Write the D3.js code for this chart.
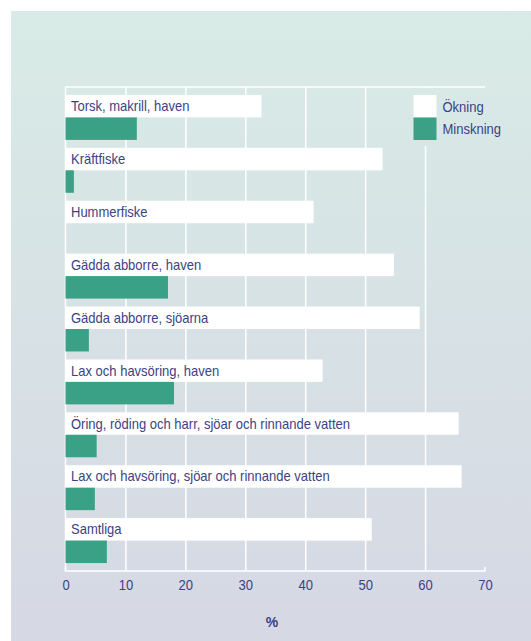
<!DOCTYPE html>
<html>
<head>
<meta charset="utf-8">
<script src="https://cdn.jsdelivr.net/npm/d3@7"></script>
<style>
  body { margin: 0; background: #ffffff; }
  svg text { font-family: "Liberation Sans", Arial, sans-serif; fill: #3d3f85; }
</style>
</head>
<body>
<div id="chart"></div>
<script>
const categories = [
    "Torsk, makrill, haven",
    "Kräftfiske",
    "Hummerfiske",
    "Gädda abborre, haven",
    "Gädda abborre, sjöarna",
    "Lax och havsöring, haven",
    "Öring, röding och harr, sjöar och rinnande vatten",
    "Lax och havsöring, sjöar och rinnande vatten",
    "Samtliga"
];
const okning = [32.7, 52.9, 41.4, 54.8, 59.1, 42.9, 65.6, 66.1, 51.1];
const minskning = [11.9, 1.4, 0, 17.1, 3.9, 18.1, 5.2, 4.9, 6.9];
const seriesNames = ["Ökning", "Minskning"];
const xTicks = [0, 10, 20, 30, 40, 50, 60, 70];

const data = categories.map((c, i) => ({ cat: c, Ökning: okning[i], Minskning: minskning[i] }));

const width = 531, height = 641;
const margin = { top: 87, bottom: 70, left: 65.5, right: 46 };
const textColor = "#3d3f85";

const svg = d3.select("#chart").append("svg")
    .attr("width", width)
    .attr("height", height);

const defs = svg.append("defs");
const grad = defs.append("linearGradient")
    .attr("id", "bg")
    .attr("gradientUnits", "userSpaceOnUse")
    .attr("x1", 0).attr("y1", 11).attr("x2", 0).attr("y2", height);
grad.append("stop").attr("offset", "0%").attr("stop-color", "#d8ebe6");
grad.append("stop").attr("offset", "100%").attr("stop-color", "#d6d8e4");

svg.append("rect")
    .attr("x", 11).attr("y", 11)
    .attr("width", width - 11).attr("height", height - 11)
    .attr("fill", "url(#bg)");

const xScale = d3.scaleLinear()
    .domain([0, 70])
    .range([margin.left, width - margin.right]);

const yScale = d3.scaleBand()
    .domain(categories)
    .range([margin.top, height - margin.bottom])
    .paddingInner(0.15)
    .paddingOuter(0.15);

const subScale = d3.scaleBand()
    .domain(seriesNames)
    .range([0, yScale.bandwidth()]);

const colorScale = d3.scaleOrdinal()
    .domain(seriesNames)
    .range(["#ffffff", "#3ba186"]);

const plotBottom = height - margin.bottom;

// gridlines
svg.append("g")
    .attr("class", "grid")
    .attr("transform", `translate(0, ${plotBottom})`)
    .call(d3.axisBottom(xScale).tickValues(xTicks.slice(1, -1)).tickSize(-(plotBottom - margin.top)).tickFormat(""))
    .call(g => g.select(".domain").remove())
    .call(g => g.selectAll("line").attr("stroke", "#ffffff").attr("stroke-width", 1.5));

// frame lines: top, left, bottom
const frame = svg.append("g").attr("stroke", "#ffffff").attr("stroke-width", 1.5).attr("fill", "none");
frame.append("line").attr("x1", xScale(0)).attr("x2", xScale(70)).attr("y1", margin.top).attr("y2", margin.top);
frame.append("line").attr("x1", xScale(0)).attr("x2", xScale(0)).attr("y1", margin.top).attr("y2", plotBottom);
frame.append("path").attr("d", `M${xScale(0)},${plotBottom - 4}V${plotBottom}H${xScale(70)}V${plotBottom - 4}`);

// legend (covers the grid behind it)
const legend = svg.append("g").attr("class", "legend");
legend.append("rect")
    .attr("x", 408).attr("y", margin.top + 1)
    .attr("width", 100).attr("height", 58)
    .attr("fill", "url(#bg)");

const groups = svg.selectAll("g.row")
    .data(data)
    .join("g")
    .attr("class", "row")
    .attr("transform", d => `translate(0, ${yScale(d.cat)})`);

groups.selectAll("rect")
    .data(d => seriesNames.map(k => ({ key: k, value: d[k] })))
    .join("rect")
    .attr("x", xScale(0))
    .attr("y", d => subScale(d.key))
    .attr("width", d => xScale(d.value) - xScale(0))
    .attr("height", subScale.bandwidth())
    .attr("fill", d => colorScale(d.key));

groups.append("text")
    .attr("transform", `translate(${xScale(0) + 5.5}, ${subScale("Ökning") + subScale.bandwidth() / 2}) scale(0.93, 1)`)
    .attr("dy", "0.36em")
    .style("font-size", "14px")
    .text(d => d.cat);

const legendItems = legend.selectAll("g.item")
    .data(seriesNames)
    .join("g")
    .attr("class", "item")
    .attr("transform", (d, i) => `translate(413.5, ${95 + i * 22.5})`);

legendItems.append("rect")
    .attr("width", 23)
    .attr("height", 22.5)
    .attr("fill", d => colorScale(d));

legendItems.append("text")
    .attr("transform", "translate(29, 11.5) scale(0.93, 1)")
    .attr("dy", "0.36em")
    .style("font-size", "14px")
    .text(d => d);

// x axis labels
svg.append("g")
    .attr("class", "axis")
    .attr("transform", `translate(0, ${plotBottom})`)
    .call(d3.axisBottom(xScale).tickValues(xTicks).tickSize(0).tickPadding(9))
    .call(g => g.select(".domain").remove())
    .call(g => g.selectAll("text")
        .attr("fill", textColor)
        .attr("transform", "scale(0.93, 1)")
        .style("font-size", "14px")
        .style("font-family", "'Liberation Sans', Arial, sans-serif"));

svg.append("text")
    .attr("x", 272)
    .attr("y", 622)
    .attr("dy", "0.36em")
    .attr("text-anchor", "middle")
    .style("font-size", "14px")
    .style("font-weight", "bold")
    .text("%");
</script>
</body>
</html>
